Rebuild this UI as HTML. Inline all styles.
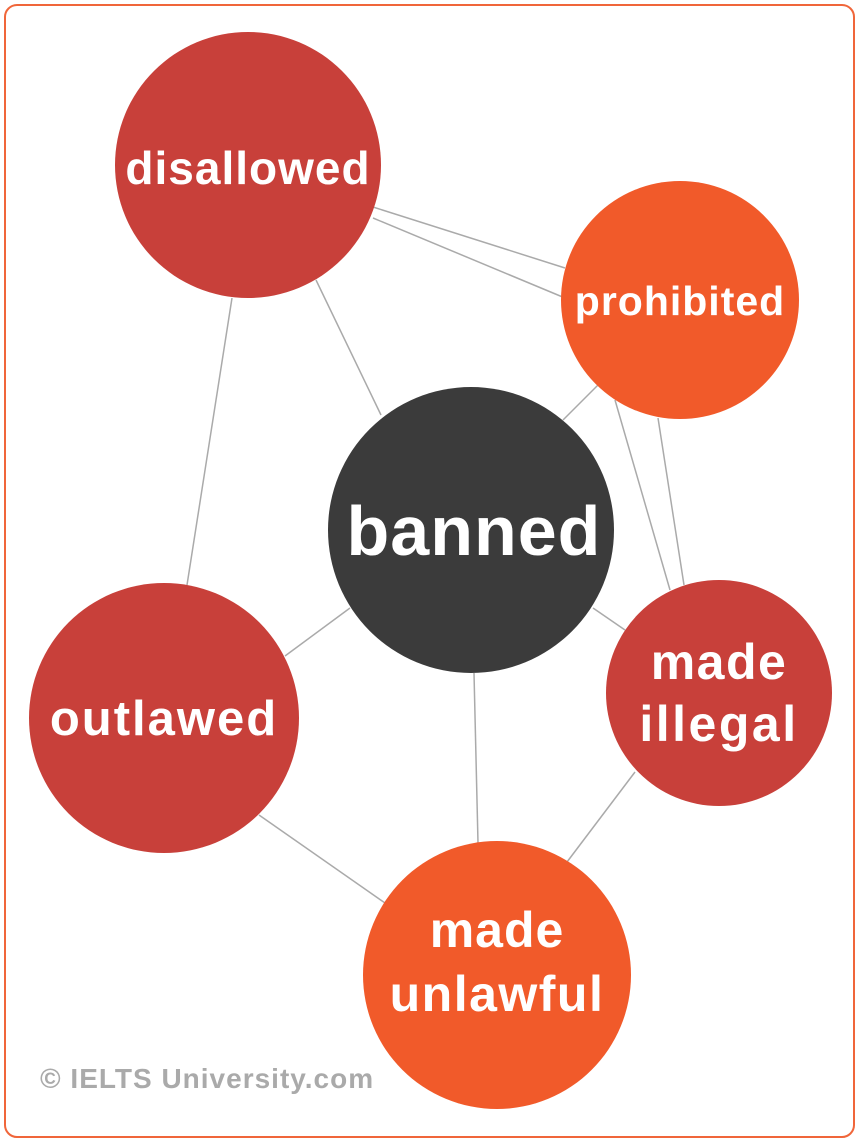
<!DOCTYPE html>
<html><head><meta charset="utf-8"><style>
html,body{margin:0;padding:0;background:#fff;}
svg{display:block;}
text{font-family:"Liberation Sans",sans-serif;font-weight:bold;fill:#fff;text-anchor:middle;}
</style></head><body>
<svg width="860" height="1142" viewBox="0 0 860 1142" xmlns="http://www.w3.org/2000/svg">
<rect x="5" y="5" width="849" height="1132" rx="12" ry="12" fill="#fff" stroke="#f0663a" stroke-width="2"/>
<g stroke="#aaa" stroke-width="1.5" fill="none">
<line x1="373" y1="207" x2="565" y2="268"/>
<line x1="373" y1="218" x2="565" y2="298"/>
<line x1="316" y1="280" x2="381" y2="415"/>
<line x1="232" y1="298" x2="187" y2="585"/>
<line x1="598" y1="385" x2="563" y2="420"/>
<line x1="615" y1="400" x2="670" y2="590"/>
<line x1="658" y1="418" x2="684" y2="585"/>
<line x1="350" y1="608" x2="285" y2="656"/>
<line x1="593" y1="608" x2="625" y2="630"/>
<line x1="474" y1="673" x2="478" y2="843"/>
<line x1="259" y1="815" x2="385" y2="903"/>
<line x1="635" y1="772" x2="567" y2="862"/>
</g>
<circle cx="248" cy="165" r="133" fill="#c8403a"/>
<circle cx="680" cy="300" r="119" fill="#f15a2a"/>
<circle cx="471" cy="530" r="143" fill="#3b3b3b"/>
<circle cx="719" cy="693" r="113" fill="#c8403a"/>
<circle cx="164" cy="718" r="135" fill="#c8403a"/>
<circle cx="497" cy="975" r="134" fill="#f15a2a"/>
<text x="248" y="184" font-size="46" letter-spacing="1">disallowed</text>
<text x="680" y="315" font-size="41" letter-spacing="1">prohibited</text>
<text x="474" y="555" font-size="70" letter-spacing="1">banned</text>
<text x="719" y="679" font-size="50" letter-spacing="1.5">made</text>
<text x="719" y="741" font-size="50" letter-spacing="2.5">illegal</text>
<text x="164" y="735" font-size="49" letter-spacing="2">outlawed</text>
<text x="497" y="947" font-size="50" letter-spacing="1">made</text>
<text x="497" y="1011" font-size="50" letter-spacing="1.5">unlawful</text>
<text x="40" y="1088" font-size="28" letter-spacing="1" style="fill:#aaa;text-anchor:start">© IELTS University.com</text>
</svg>
</body></html>
